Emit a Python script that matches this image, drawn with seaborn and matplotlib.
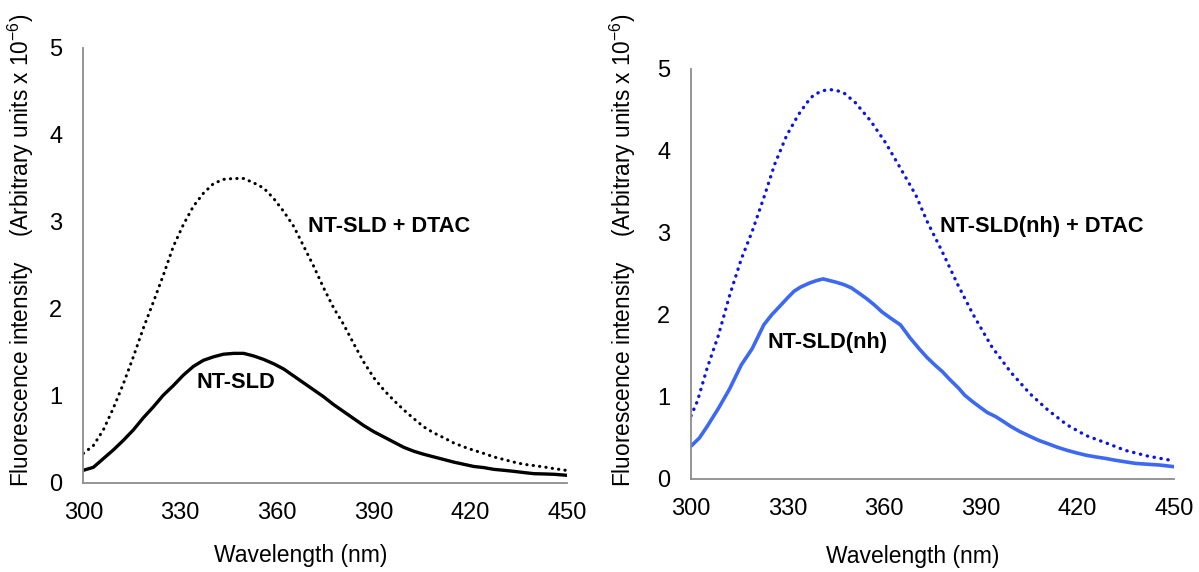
import matplotlib
matplotlib.use("Agg")
import matplotlib.pyplot as plt
import seaborn as sns

# ---- data ----
wl_a = [300, 303.1, 306.2, 309.3, 312.4, 315.5, 318.6, 321.7, 324.8, 327.9, 331, 334.1, 337.2, 340.3,
        343.4, 346.6, 349.7, 352.8, 355.9, 359, 362.1, 365.2, 368.3, 371.4, 374.5, 377.6, 380.7,
        383.8, 386.9, 390, 393.1, 396.2, 399.3, 402.4, 405.5, 408.6, 411.7, 414.8, 417.9, 421,
        424.1, 427.2, 430.3, 433.4, 436.5, 439.7, 442.8, 445.9, 450]
nt_sld = [0.146, 0.18, 0.28, 0.38, 0.49, 0.61, 0.75, 0.875, 1.01, 1.12, 1.24, 1.34, 1.41, 1.45,
          1.48, 1.49, 1.49, 1.46, 1.42, 1.37, 1.31, 1.23, 1.15, 1.07, 0.99, 0.90, 0.82,
          0.74, 0.66, 0.59, 0.53, 0.47, 0.41, 0.365, 0.33, 0.30, 0.27, 0.24, 0.215, 0.19,
          0.177, 0.157, 0.146, 0.134, 0.12, 0.107, 0.104, 0.10, 0.088]

wl_b = [300, 303.1, 306.2, 309.3, 312.4, 315.5, 318.6, 321.7, 324.8, 327.9, 331, 334.1, 337.2, 340.3,
        343.4, 346.6, 349.7, 352.8, 355.9, 359, 362.1, 365.2, 368.3, 371.4, 374.5, 377.6, 380.7,
        383.8, 386.9, 390, 393.1, 396.2, 399.3, 402.4, 405.5, 408.6, 411.7, 414.8, 417.9, 421,
        424.1, 427.2, 430.3, 433.4, 436.5, 439.7, 442.8, 445.9, 449.5]
nt_sld_dtac = [0.34, 0.43, 0.61, 0.86, 1.14, 1.45, 1.78, 2.08, 2.39, 2.72, 2.97, 3.18, 3.33, 3.44,
               3.49, 3.50, 3.50, 3.45, 3.39, 3.27, 3.12, 2.95, 2.72, 2.49, 2.24, 2.01, 1.82,
               1.60, 1.39, 1.21, 1.07, 0.95, 0.84, 0.74, 0.645, 0.576, 0.52, 0.46, 0.415, 0.376,
               0.34, 0.30, 0.27, 0.24, 0.215, 0.20, 0.184, 0.165, 0.146]

wl_c = [300, 302.6, 305, 308.5, 312, 315.6, 319, 322.6, 325, 327.4, 330, 332, 334, 336.8, 339, 341,
        343, 345, 347.5, 349.8, 352, 354.5, 357, 359.2, 362, 365, 368, 371, 373.3, 375.7, 378,
        380.4, 383, 385, 387.5, 389.9, 392, 394.6, 397, 399.3, 402, 405.2, 408, 410.8, 413.5,
        416.7, 419.5, 422.6, 425.5, 428.8, 431.5, 434.7, 438, 441.7, 445.5, 450]
nt_sld_nh = [0.40, 0.50, 0.64, 0.86, 1.10, 1.39, 1.59, 1.88, 2.00, 2.10, 2.21, 2.29, 2.34, 2.39, 2.42, 2.44,
             2.42, 2.40, 2.37, 2.33, 2.27, 2.20, 2.12, 2.04, 1.96, 1.88, 1.72, 1.58, 1.48, 1.39, 1.31,
             1.21, 1.11, 1.02, 0.94, 0.87, 0.81, 0.76, 0.70, 0.64, 0.58, 0.52, 0.47, 0.43, 0.39,
             0.35, 0.32, 0.29, 0.27, 0.25, 0.23, 0.21, 0.19, 0.18, 0.17, 0.15]

wl_d = [300, 302, 305, 308.5, 312, 315.6, 319, 322.6, 326, 329.7, 333.3, 336, 338, 340.5, 342.7, 345,
        347.4, 351, 355.7, 360.4, 365, 369.8, 373.3, 378, 382.8, 387.5, 393.4, 399.3, 405.2, 410.8,
        416.7, 422.6, 428.8, 434.7, 441.7, 450]
nt_sld_nh_dtac = [0.77, 0.95, 1.35, 1.75, 2.24, 2.68, 3.02, 3.43, 3.84, 4.19, 4.44, 4.59, 4.68, 4.73, 4.75,
                  4.74, 4.71, 4.59, 4.37, 4.10, 3.79, 3.46, 3.14, 2.77, 2.37, 2.01, 1.61, 1.30, 1.04,
                  0.84, 0.66, 0.53, 0.44, 0.35, 0.28, 0.22]

x_ticks = [300, 330, 360, 390, 420, 450]
y_ticks = [0, 1, 2, 3, 4, 5]
x_label = "Wavelength (nm)"
y_label = "Fluorescence intensity    (Arbitrary units x 10$^{-6}$)"
lab_a, lab_b = "NT-SLD", "NT-SLD + DTAC"
lab_c, lab_d = "NT-SLD(nh)", "NT-SLD(nh) + DTAC"

sns.set_style("white")
plt.rcParams['font.family'] = ['Liberation Sans', 'DejaVu Sans']
plt.rcParams['mathtext.fontset'] = 'custom'
plt.rcParams['mathtext.rm'] = 'Liberation Sans'
plt.rcParams['mathtext.default'] = 'regular'
plt.rcParams['text.color'] = 'black'
plt.rcParams['axes.labelcolor'] = 'black'

fig = plt.figure(figsize=(11.99, 5.72), dpi=100)
axL = fig.add_axes([0.0695, 0.1556, 0.4037, 0.7605])
axR = fig.add_axes([0.5763, 0.1626, 0.4031, 0.7168])

GRAY = '#8c8c8c'
dot = (0, (0.1, 2.0))

def style(ax):
    ax.set_xlim(300, 450)
    ax.set_ylim(0, 5)
    ax.set_xticks(x_ticks)
    ax.set_yticks(y_ticks)
    for s in ['top', 'right']:
        ax.spines[s].set_visible(False)
    for s in ['left', 'bottom']:
        ax.spines[s].set_color(GRAY)
        ax.spines[s].set_linewidth(1.3)
    ax.tick_params(axis='both', direction='out', length=6, width=1.3, color=GRAY,
                   labelsize=17, labelcolor='black')
    ax.tick_params(axis='x', pad=8)
    ax.tick_params(axis='y', pad=9)
    ax.set_xlabel(x_label, fontsize=16.5)
    ax.set_ylabel(y_label, fontsize=16.3)

# Left panel
sns.lineplot(x=wl_b, y=nt_sld_dtac, ax=axL, color='black', linewidth=2.2,
             linestyle=dot, dash_capstyle='round')
sns.lineplot(x=wl_a, y=nt_sld, ax=axL, color='black', linewidth=2.4)
style(axL)
axL.text(369.7, 2.95, lab_b, fontsize=15.7, fontweight='bold', ha='left', va='center')
axL.text(335.1, 1.15, lab_a, fontsize=15.7, fontweight='bold', ha='left', va='center')
axL.xaxis.set_label_coords(0.45, -0.14)
axL.yaxis.set_label_coords(-0.098, 0.536)

# Right panel
sns.lineplot(x=wl_d, y=nt_sld_nh_dtac, ax=axR, color='#0a14e6', linewidth=2.4,
             linestyle=dot, dash_capstyle='round')
sns.lineplot(x=wl_c, y=nt_sld_nh, ax=axR, color='#3d69f2', linewidth=2.6)
style(axR)
axR.text(377.2, 3.08, lab_d, fontsize=15.7, fontweight='bold', ha='left', va='center')
axR.text(323.8, 1.66, lab_c, fontsize=15.7, fontweight='bold', ha='left', va='center')
axR.xaxis.set_label_coords(0.458, -0.16)
axR.yaxis.set_label_coords(-0.11, 0.558)

fig.savefig("out.png", dpi=100)
